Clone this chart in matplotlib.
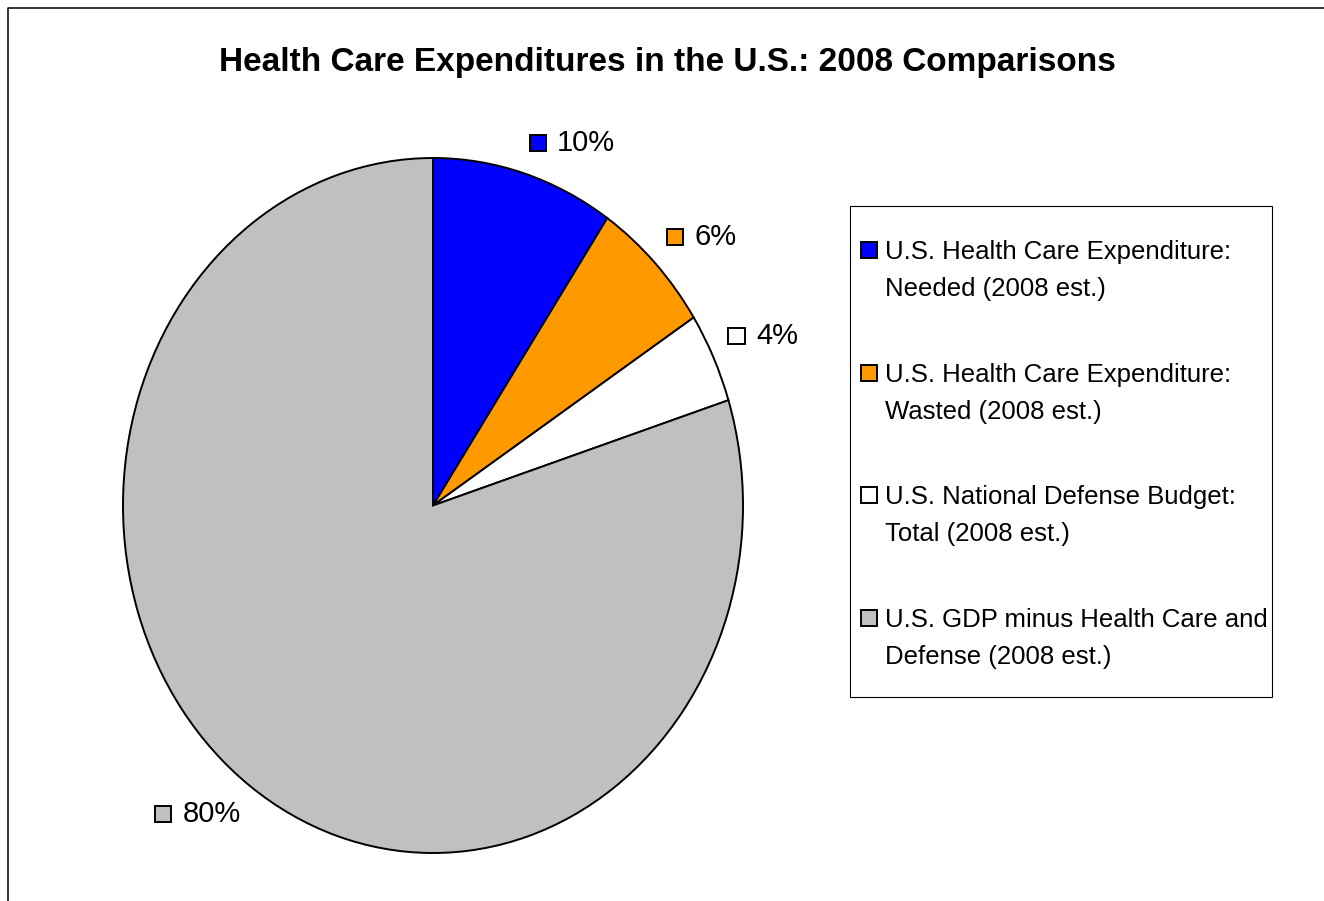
import matplotlib
matplotlib.use("Agg")
import matplotlib.pyplot as plt
import numpy as np
from matplotlib.patches import Rectangle
from matplotlib.lines import Line2D
from matplotlib.transforms import Affine2D
from matplotlib.offsetbox import AnnotationBbox, DrawingArea, HPacker, TextArea

plt.rcParams['font.family'] = ['Liberation Sans', 'DejaVu Sans']

title = "Health Care Expenditures in the U.S.: 2008 Comparisons"
categories = [
    "U.S. Health Care Expenditure:\nNeeded (2008 est.)",
    "U.S. Health Care Expenditure:\nWasted (2008 est.)",
    "U.S. National Defense Budget:\nTotal (2008 est.)",
    "U.S. GDP minus Health Care and\nDefense (2008 est.)",
]
# shares of GDP in percent
values = [9.5, 6.4, 4.2, 79.9]
colors = ["#0000FF", "#FF9900", "#FFFFFF", "#C0C0C0"]

W, H = 1324, 901
fig = plt.figure(figsize=(W / 100, H / 100), dpi=100)
# pixel coords measured from the top-left corner
pix = Affine2D().scale(1 / W, -1 / H).translate(0, 1) + fig.transFigure

# outer frame (top and left edges visible)
fig.add_artist(Line2D([7.5, 7.5, W], [H, 7.5, 7.5], transform=pix,
                      color='black', lw=1.1))

fig.text(667.5, 71, title, transform=pix, ha='center', va='baseline',
         fontsize=24, fontweight='bold')

# pie, stretched into an ellipse (rx=310px, ry=347.5px)
cx, cy, rx, ry, lim = 433, 505.5, 310, 347.5, 1.25
ax = fig.add_axes([(cx - lim * rx) / W, (H - (cy + lim * ry)) / H,
                   2 * lim * rx / W, 2 * lim * ry / H])
wedges, _ = ax.pie(values, colors=colors, startangle=90, counterclock=False,
                   wedgeprops=dict(edgecolor='black', linewidth=1.4))
ax.set_aspect('auto')
ax.set_xlim(-lim, lim)
ax.set_ylim(-lim, lim)
ax.axis('off')

total = sum(values)
for w, v, c in zip(wedges, values, colors):
    mid = np.deg2rad((w.theta1 + w.theta2) / 2)
    ux, uy = np.cos(mid), np.sin(mid)
    da = DrawingArea(13, 13)
    da.add_artist(Rectangle((0.7, 0.7), 11.6, 11.6, facecolor=c,
                            edgecolor='black', lw=1.4))
    ta = TextArea(f"{v / total * 100:.0f}%", textprops=dict(fontsize=21))
    box = HPacker(children=[da, ta], align='center', pad=0, sep=7.5)
    ab = AnnotationBbox(box, (1.05 * ux, 1.05 * uy),
                        box_alignment=(0 if ux > 0 else 1, 0 if uy > 0 else 1),
                        frameon=False, pad=0, annotation_clip=False)
    ax.add_artist(ab)

# legend drawn by hand so the swatch sits on the first line
fig.add_artist(Rectangle((850, 206), 422, 491, transform=pix, fill=False,
                         edgecolor='black', lw=0.8))
for i, (lab, c) in enumerate(zip(categories, colors)):
    yc = 250 + i * 122.5
    fig.add_artist(Rectangle((861, yc - 8), 16, 16, transform=pix,
                             facecolor=c, edgecolor='black', lw=1.4))
    for j, line in enumerate(lab.split("\n")):
        fig.text(885, yc + 9.2 + j * 37, line, transform=pix,
                 fontsize=18.5, va='baseline')

fig.savefig("out.png", dpi=100)
